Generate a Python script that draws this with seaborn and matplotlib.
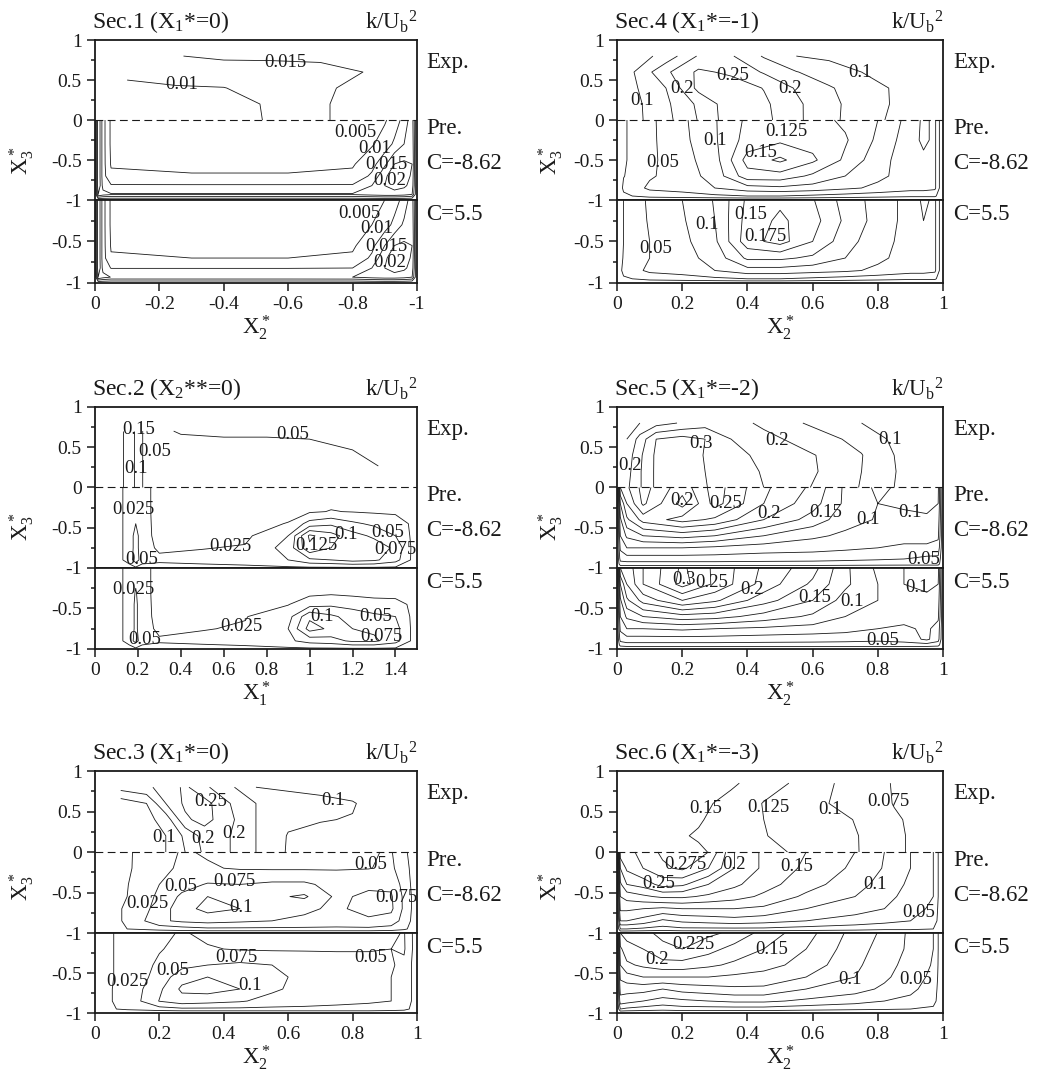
import numpy as np
import matplotlib
matplotlib.use("Agg")
import matplotlib.pyplot as plt
import seaborn as sns

# ---------------- data (k/Ub^2) ----------------
# Sec.1 (X1*=0)
sec1_exp_x = [-0.1, -0.25, -0.4, -0.55, -0.7, -0.85]
sec1_exp_y = [0, 0.2, 0.4, 0.6, 0.8]
sec1_exp_k = [[0.007, 0.0075, 0.008, 0.0105, 0.0145, 0.017],
              [0.0075, 0.008, 0.0085, 0.0105, 0.0145, 0.017],
              [0.0095, 0.0098, 0.0099, 0.0115, 0.014, 0.017],
              [0.0105, 0.011, 0.012, 0.0125, 0.0135, 0.0152],
              [0.013, 0.0148, 0.016, 0.016, 0.016, 0.0155]]
sec1_x = [0, -0.01, -0.025, -0.05, -0.3, -0.6, -0.8, -0.86, -0.9, -0.93, -0.96, -0.985, -1.0]
sec1_y = [0, -0.3, -0.55, -0.7, -0.82, -0.93, -1.0]
sec1_pre_k = [[0, 0.025, 0.012, 0.004, 0.003, 0.003, 0.003, 0.0035, 0.0045, 0.007, 0.012, 0.018, 0],
              [0, 0.025, 0.012, 0.004, 0.003, 0.003, 0.0035, 0.0045, 0.007, 0.011, 0.015, 0.019, 0],
              [0, 0.025, 0.012, 0.0045, 0.0035, 0.0035, 0.0045, 0.008, 0.014, 0.02, 0.021, 0.02, 0],
              [0, 0.025, 0.012, 0.006, 0.0055, 0.0055, 0.006, 0.011, 0.019, 0.023, 0.023, 0.019, 0],
              [0, 0.025, 0.013, 0.0105, 0.0105, 0.0105, 0.0105, 0.015, 0.02, 0.022, 0.021, 0.018, 0],
              [0, 0.02, 0.017, 0.0155, 0.0155, 0.0155, 0.0155, 0.017, 0.018, 0.018, 0.017, 0.015, 0],
              [0, 0, 0, 0, 0, 0, 0, 0, 0, 0, 0, 0, 0]]
sec1_c_k = [[0, 0.025, 0.012, 0.004, 0.003, 0.003, 0.003, 0.004, 0.005, 0.0075, 0.012, 0.018, 0],
            [0, 0.025, 0.012, 0.004, 0.003, 0.003, 0.0035, 0.005, 0.0075, 0.0115, 0.016, 0.019, 0],
            [0, 0.025, 0.012, 0.0045, 0.0035, 0.0035, 0.0042, 0.0085, 0.015, 0.02, 0.021, 0.02, 0],
            [0, 0.025, 0.012, 0.0055, 0.005, 0.005, 0.0058, 0.011, 0.019, 0.023, 0.023, 0.019, 0],
            [0, 0.025, 0.013, 0.0098, 0.0098, 0.0098, 0.01, 0.015, 0.02, 0.022, 0.021, 0.018, 0],
            [0, 0.02, 0.017, 0.0148, 0.0148, 0.0148, 0.015, 0.017, 0.018, 0.018, 0.017, 0.015, 0],
            [0, 0, 0, 0, 0, 0, 0, 0, 0, 0, 0, 0, 0]]

# Sec.2 (X2**=0)
sec2_exp_x = [0.12, 0.14, 0.17, 0.2, 0.23, 0.3, 0.4, 0.6, 0.8, 1.0, 1.2, 1.32]
sec2_exp_y = [0, 0.2, 0.4, 0.6, 0.7]
sec2_exp_k = [[0.17, 0.13, 0.11, 0.08, 0.04, 0.04, 0.042, 0.044, 0.045, 0.046, 0.047, 0.048],
              [0.17, 0.13, 0.11, 0.08, 0.04, 0.04, 0.043, 0.045, 0.046, 0.047, 0.048, 0.049],
              [0.17, 0.13, 0.11, 0.08, 0.04, 0.042, 0.044, 0.046, 0.047, 0.048, 0.049, 0.052],
              [0.17, 0.13, 0.11, 0.08, 0.04, 0.044, 0.047, 0.049, 0.049, 0.05, 0.052, 0.054],
              [0.17, 0.13, 0.11, 0.08, 0.04, 0.046, 0.052, 0.053, 0.053, 0.053, 0.054, 0.055]]
sec2_x = [0.1, 0.16, 0.19, 0.22, 0.3, 0.5, 0.7, 0.9, 1.0, 1.1, 1.2, 1.3, 1.4, 1.48]
sec2_y = [0, -0.3, -0.45, -0.6, -0.75, -0.9, -1.0]
sec2_pre_k = [[0.015, 0.035, 0.04, 0.035, 0.015, 0.01, 0.01, 0.012, 0.013, 0.013, 0.013, 0.012, 0.01, 0.008],
              [0.015, 0.035, 0.045, 0.035, 0.015, 0.012, 0.013, 0.018, 0.022, 0.026, 0.024, 0.022, 0.02, 0.015],
              [0.015, 0.035, 0.05, 0.035, 0.016, 0.015, 0.017, 0.026, 0.06, 0.07, 0.055, 0.045, 0.04, 0.02],
              [0.015, 0.035, 0.06, 0.035, 0.017, 0.018, 0.02, 0.05, 0.13, 0.11, 0.085, 0.07, 0.05, 0.02],
              [0.015, 0.035, 0.06, 0.035, 0.021, 0.024, 0.027, 0.06, 0.12, 0.1, 0.085, 0.09, 0.07, 0.02],
              [0.015, 0.035, 0.065, 0.035, 0.03, 0.032, 0.034, 0.05, 0.07, 0.075, 0.085, 0.08, 0.06, 0.02],
              [0.01, 0.015, 0.02, 0.015, 0.015, 0.018, 0.02, 0.02, 0.02, 0.02, 0.02, 0.02, 0.02, 0.01]]
sec2_c_k = [[0.015, 0.035, 0.04, 0.035, 0.015, 0.01, 0.01, 0.012, 0.013, 0.013, 0.013, 0.012, 0.01, 0.008],
            [0.015, 0.035, 0.052, 0.035, 0.015, 0.012, 0.013, 0.016, 0.018, 0.02, 0.018, 0.016, 0.014, 0.012],
            [0.015, 0.035, 0.055, 0.035, 0.016, 0.015, 0.017, 0.024, 0.04, 0.045, 0.04, 0.035, 0.035, 0.02],
            [0.015, 0.035, 0.055, 0.035, 0.017, 0.02, 0.024, 0.04, 0.095, 0.08, 0.065, 0.055, 0.05, 0.02],
            [0.015, 0.035, 0.055, 0.035, 0.02, 0.024, 0.027, 0.05, 0.11, 0.095, 0.075, 0.07, 0.06, 0.02],
            [0.015, 0.035, 0.06, 0.035, 0.028, 0.03, 0.032, 0.045, 0.06, 0.065, 0.08, 0.08, 0.06, 0.02],
            [0.01, 0.015, 0.02, 0.015, 0.015, 0.018, 0.02, 0.02, 0.02, 0.02, 0.02, 0.02, 0.02, 0.01]]

# Sec.3 (X1*=0)
sec3_exp_x = [0.08, 0.16, 0.22, 0.28, 0.34, 0.42, 0.5, 0.6, 0.7, 0.8, 0.86]
sec3_exp_y = [0, 0.2, 0.4, 0.6, 0.8]
sec3_exp_k = [[0.06, 0.08, 0.1, 0.15, 0.21, 0.2, 0.15, 0.095, 0.08, 0.07, 0.06],
              [0.06, 0.08, 0.1, 0.16, 0.22, 0.2, 0.15, 0.097, 0.085, 0.07, 0.06],
              [0.06, 0.085, 0.12, 0.24, 0.27, 0.21, 0.15, 0.11, 0.103, 0.097, 0.07],
              [0.07, 0.1, 0.2, 0.26, 0.27, 0.2, 0.15, 0.13, 0.12, 0.105, 0.08],
              [0.17, 0.19, 0.22, 0.26, 0.21, 0.16, 0.1, 0.09, 0.08, 0.07, 0.06]]
sec3_x = [0, 0.1, 0.2, 0.27, 0.35, 0.45, 0.55, 0.65, 0.75, 0.85, 0.92, 0.96, 1.0]
sec3_y = [0, -0.2, -0.4, -0.55, -0.7, -0.85, -0.95, -1.0]
sec3_pre_k = [[0.02, 0.022, 0.04, 0.052, 0.048, 0.045, 0.045, 0.045, 0.045, 0.048, 0.052, 0.03, 0.01],
              [0.02, 0.022, 0.042, 0.055, 0.052, 0.048, 0.047, 0.047, 0.048, 0.049, 0.055, 0.035, 0.01],
              [0.02, 0.024, 0.05, 0.065, 0.077, 0.075, 0.08, 0.08, 0.065, 0.07, 0.07, 0.04, 0.01],
              [0.02, 0.025, 0.055, 0.08, 0.1, 0.085, 0.095, 0.104, 0.07, 0.08, 0.078, 0.045, 0.01],
              [0.02, 0.026, 0.06, 0.09, 0.108, 0.1, 0.085, 0.08, 0.07, 0.085, 0.08, 0.045, 0.01],
              [0.02, 0.026, 0.07, 0.08, 0.085, 0.08, 0.075, 0.07, 0.065, 0.07, 0.065, 0.04, 0.01],
              [0.02, 0.025, 0.035, 0.04, 0.045, 0.045, 0.045, 0.045, 0.045, 0.045, 0.04, 0.03, 0.01],
              [0, 0, 0, 0, 0, 0, 0, 0, 0, 0, 0, 0, 0]]
sec3_c_k = [[0.018, 0.03, 0.045, 0.052, 0.045, 0.042, 0.042, 0.042, 0.042, 0.042, 0.045, 0.052, 0.01],
            [0.018, 0.03, 0.048, 0.058, 0.052, 0.048, 0.047, 0.047, 0.048, 0.049, 0.05, 0.053, 0.01],
            [0.018, 0.03, 0.055, 0.068, 0.075, 0.08, 0.075, 0.07, 0.06, 0.055, 0.052, 0.045, 0.01],
            [0.018, 0.03, 0.06, 0.09, 0.1, 0.09, 0.08, 0.07, 0.06, 0.055, 0.05, 0.045, 0.01],
            [0.018, 0.031, 0.07, 0.105, 0.11, 0.1, 0.08, 0.065, 0.058, 0.055, 0.05, 0.045, 0.01],
            [0.018, 0.031, 0.076, 0.09, 0.085, 0.078, 0.065, 0.06, 0.055, 0.052, 0.05, 0.045, 0.01],
            [0.015, 0.03, 0.04, 0.045, 0.045, 0.045, 0.045, 0.045, 0.045, 0.045, 0.04, 0.035, 0.01],
            [0, 0, 0, 0, 0, 0, 0, 0, 0, 0, 0, 0, 0]]

# Sec.4 (X1*=-1)
sec4_exp_x = [0.05, 0.15, 0.25, 0.35, 0.45, 0.55, 0.65, 0.75, 0.85]
sec4_exp_y = [0, 0.2, 0.4, 0.6, 0.8]
sec4_exp_k = [[0.085, 0.135, 0.203, 0.28, 0.265, 0.21, 0.163, 0.125, 0.09],
              [0.085, 0.14, 0.21, 0.28, 0.26, 0.21, 0.162, 0.13, 0.095],
              [0.092, 0.15, 0.265, 0.28, 0.248, 0.195, 0.155, 0.125, 0.095],
              [0.098, 0.19, 0.26, 0.24, 0.195, 0.152, 0.125, 0.1, 0.085],
              [0.07, 0.12, 0.205, 0.205, 0.145, 0.1, 0.09, 0.085, 0.08]]
sec4_x = [0, 0.02, 0.1, 0.2, 0.3, 0.4, 0.5, 0.6, 0.7, 0.8, 0.9, 0.94, 0.975, 1.0]
sec4_y = [0, -0.25, -0.5, -0.7, -0.85, -0.95, -1.0]
sec4_pre_k = [[0, 0.022, 0.045, 0.07, 0.098, 0.13, 0.135, 0.135, 0.12, 0.1, 0.065, 0.045, 0.055, 0],
              [0, 0.022, 0.045, 0.068, 0.097, 0.135, 0.145, 0.14, 0.128, 0.095, 0.06, 0.045, 0.055, 0],
              [0, 0.022, 0.045, 0.065, 0.09, 0.16, 0.18, 0.155, 0.12, 0.085, 0.06, 0.055, 0.055, 0],
              [0, 0.024, 0.047, 0.062, 0.085, 0.14, 0.14, 0.12, 0.1, 0.08, 0.065, 0.06, 0.055, 0],
              [0, 0.03, 0.055, 0.06, 0.075, 0.09, 0.095, 0.09, 0.08, 0.07, 0.06, 0.06, 0.055, 0],
              [0, 0.02, 0.035, 0.04, 0.045, 0.05, 0.05, 0.045, 0.04, 0.035, 0.03, 0.03, 0.03, 0],
              [0, 0, 0, 0, 0, 0, 0, 0, 0, 0, 0, 0, 0, 0]]
sec4_c_k = [[0, 0.025, 0.055, 0.075, 0.102, 0.155, 0.17, 0.152, 0.115, 0.09, 0.065, 0.045, 0.055, 0],
            [0, 0.025, 0.053, 0.072, 0.1, 0.16, 0.18, 0.16, 0.12, 0.09, 0.065, 0.05, 0.055, 0],
            [0, 0.025, 0.05, 0.068, 0.095, 0.165, 0.185, 0.15, 0.11, 0.085, 0.065, 0.055, 0.055, 0],
            [0, 0.028, 0.05, 0.065, 0.085, 0.13, 0.13, 0.12, 0.1, 0.08, 0.065, 0.06, 0.055, 0],
            [0, 0.035, 0.055, 0.06, 0.075, 0.09, 0.09, 0.085, 0.08, 0.07, 0.06, 0.06, 0.055, 0],
            [0, 0.02, 0.035, 0.04, 0.045, 0.05, 0.05, 0.045, 0.04, 0.035, 0.03, 0.03, 0.03, 0],
            [0, 0, 0, 0, 0, 0, 0, 0, 0, 0, 0, 0, 0, 0]]

# Sec.5 (X1*=-2)
sec5_exp_x = [0.03, 0.07, 0.12, 0.2, 0.27, 0.35, 0.45, 0.55, 0.65, 0.75, 0.85, 0.9]
sec5_exp_y = [0, 0.2, 0.4, 0.6, 0.8]
sec5_exp_k = [[0.19, 0.245, 0.31, 0.32, 0.302, 0.28, 0.25, 0.215, 0.18, 0.147, 0.1, 0.085],
              [0.18, 0.245, 0.31, 0.32, 0.3, 0.28, 0.245, 0.22, 0.19, 0.15, 0.102, 0.085],
              [0.17, 0.24, 0.31, 0.32, 0.298, 0.27, 0.235, 0.215, 0.19, 0.152, 0.1, 0.085],
              [0.15, 0.22, 0.3, 0.32, 0.3, 0.25, 0.215, 0.19, 0.16, 0.135, 0.09, 0.08],
              [0.1, 0.15, 0.18, 0.205, 0.23, 0.22, 0.19, 0.155, 0.13, 0.1, 0.08, 0.07]]
sec5_x = [0, 0.01, 0.03, 0.08, 0.2, 0.3, 0.45, 0.6, 0.7, 0.8, 0.88, 0.95, 0.985, 1.0]
sec5_y = [0, -0.2, -0.4, -0.6, -0.75, -0.88, -0.95, -1.0]
sec5_pre_k = [[0, 0.2, 0.22, 0.26, 0.21, 0.262, 0.205, 0.17, 0.12, 0.095, 0.105, 0.11, 0.105, 0],
              [0, 0.15, 0.2, 0.255, 0.19, 0.26, 0.2, 0.16, 0.12, 0.1, 0.103, 0.105, 0.1, 0],
              [0, 0.12, 0.17, 0.21, 0.235, 0.22, 0.175, 0.14, 0.11, 0.098, 0.095, 0.097, 0.09, 0],
              [0, 0.1, 0.13, 0.15, 0.16, 0.15, 0.125, 0.105, 0.095, 0.088, 0.085, 0.085, 0.08, 0],
              [0, 0.08, 0.1, 0.1, 0.1, 0.095, 0.088, 0.085, 0.08, 0.075, 0.07, 0.07, 0.065, 0],
              [0, 0.06, 0.065, 0.065, 0.065, 0.065, 0.062, 0.06, 0.058, 0.055, 0.052, 0.045, 0.045, 0],
              [0, 0.04, 0.04, 0.04, 0.04, 0.04, 0.04, 0.04, 0.038, 0.036, 0.035, 0.035, 0.035, 0],
              [0, 0, 0, 0, 0, 0, 0, 0, 0, 0, 0, 0, 0, 0]]
sec5_c_k = [[0, 0.2, 0.21, 0.25, 0.305, 0.27, 0.22, 0.185, 0.13, 0.095, 0.1, 0.11, 0.11, 0],
            [0, 0.15, 0.2, 0.25, 0.31, 0.27, 0.215, 0.17, 0.13, 0.1, 0.1, 0.105, 0.1, 0],
            [0, 0.12, 0.17, 0.21, 0.25, 0.23, 0.185, 0.15, 0.115, 0.1, 0.095, 0.095, 0.09, 0],
            [0, 0.1, 0.13, 0.15, 0.165, 0.16, 0.14, 0.12, 0.1, 0.09, 0.085, 0.085, 0.08, 0],
            [0, 0.08, 0.1, 0.1, 0.105, 0.1, 0.095, 0.09, 0.085, 0.075, 0.07, 0.08, 0.065, 0],
            [0, 0.06, 0.065, 0.065, 0.065, 0.065, 0.062, 0.06, 0.058, 0.055, 0.06, 0.08, 0.06, 0],
            [0, 0.035, 0.04, 0.04, 0.04, 0.04, 0.04, 0.04, 0.04, 0.04, 0.04, 0.04, 0.035, 0],
            [0, 0, 0, 0, 0, 0, 0, 0, 0, 0, 0, 0, 0, 0]]

# Sec.6 (X1*=-3)
sec6_exp_x = [0.15, 0.25, 0.35, 0.45, 0.55, 0.65, 0.75, 0.85, 0.92]
sec6_exp_y = [0, 0.2, 0.4, 0.6, 0.85]
sec6_exp_k = [[0.17, 0.153, 0.142, 0.133, 0.122, 0.112, 0.099, 0.08, 0.07],
              [0.155, 0.148, 0.138, 0.126, 0.118, 0.11, 0.099, 0.08, 0.07],
              [0.16, 0.152, 0.14, 0.125, 0.117, 0.108, 0.097, 0.078, 0.07],
              [0.165, 0.158, 0.14, 0.124, 0.113, 0.1, 0.09, 0.074, 0.068],
              [0.175, 0.165, 0.155, 0.135, 0.122, 0.102, 0.09, 0.073, 0.065]]
sec6_x = [0, 0.01, 0.03, 0.08, 0.14, 0.2, 0.28, 0.36, 0.45, 0.58, 0.73, 0.82, 0.9, 0.97, 1.0]
sec6_y = [0, -0.2, -0.4, -0.55, -0.7, -0.85, -0.95, -1.0]
sec6_pre_k = [[0, 0.24, 0.24, 0.26, 0.28, 0.285, 0.275, 0.2, 0.17, 0.15, 0.125, 0.1, 0.075, 0.05, 0],
              [0, 0.2, 0.23, 0.25, 0.27, 0.28, 0.25, 0.2, 0.17, 0.145, 0.12, 0.098, 0.075, 0.05, 0],
              [0, 0.17, 0.2, 0.21, 0.235, 0.23, 0.2, 0.18, 0.16, 0.135, 0.11, 0.09, 0.07, 0.05, 0],
              [0, 0.15, 0.16, 0.17, 0.18, 0.18, 0.17, 0.16, 0.145, 0.12, 0.1, 0.083, 0.066, 0.05, 0],
              [0, 0.13, 0.13, 0.125, 0.12, 0.125, 0.125, 0.125, 0.12, 0.1, 0.085, 0.075, 0.06, 0.045, 0],
              [0, 0.1, 0.1, 0.09, 0.07, 0.08, 0.085, 0.09, 0.085, 0.075, 0.065, 0.058, 0.05, 0.04, 0],
              [0, 0.05, 0.05, 0.045, 0.04, 0.045, 0.045, 0.045, 0.045, 0.04, 0.035, 0.03, 0.03, 0.025, 0],
              [0, 0, 0, 0, 0, 0, 0, 0, 0, 0, 0, 0, 0, 0, 0]]
sec6_c_k = [[0, 0.2, 0.21, 0.22, 0.23, 0.235, 0.23, 0.22, 0.19, 0.16, 0.115, 0.095, 0.07, 0.05, 0],
            [0, 0.17, 0.19, 0.2, 0.22, 0.225, 0.21, 0.19, 0.175, 0.15, 0.11, 0.09, 0.07, 0.05, 0],
            [0, 0.15, 0.17, 0.18, 0.19, 0.19, 0.18, 0.17, 0.16, 0.14, 0.105, 0.085, 0.065, 0.048, 0],
            [0, 0.13, 0.14, 0.15, 0.15, 0.15, 0.15, 0.145, 0.14, 0.125, 0.1, 0.08, 0.06, 0.045, 0],
            [0, 0.11, 0.11, 0.11, 0.1, 0.11, 0.115, 0.12, 0.12, 0.1, 0.085, 0.07, 0.055, 0.04, 0],
            [0, 0.09, 0.085, 0.075, 0.065, 0.07, 0.075, 0.08, 0.08, 0.07, 0.06, 0.05, 0.045, 0.035, 0],
            [0, 0.05, 0.045, 0.04, 0.035, 0.04, 0.04, 0.04, 0.04, 0.035, 0.03, 0.028, 0.025, 0.02, 0],
            [0, 0, 0, 0, 0, 0, 0, 0, 0, 0, 0, 0, 0, 0, 0]]

# contour levels
lev_s1_exp = [0.01, 0.015]
lev_s1 = [0.005, 0.01, 0.015, 0.02]
lev_s2_exp = [0.05, 0.1, 0.15]
lev_s2 = [0.025, 0.05, 0.075, 0.1, 0.125]
lev_s3_exp = [0.1, 0.15, 0.2, 0.25]
lev_s3 = [0.025, 0.05, 0.075, 0.1]
lev_s4_exp = [0.1, 0.15, 0.2, 0.25]
lev_s4 = [0.025, 0.05, 0.075, 0.1, 0.125, 0.15, 0.175]
lev_s5_exp = [0.1, 0.15, 0.2, 0.25, 0.3]
lev_s5_pre = [0.025, 0.05, 0.075, 0.1, 0.125, 0.15, 0.175, 0.2, 0.225, 0.25]
lev_s5_c = [0.025, 0.05, 0.075, 0.1, 0.125, 0.15, 0.175, 0.2, 0.225, 0.25, 0.275, 0.3]
lev_s6_exp = [0.075, 0.1, 0.125, 0.15]
lev_s6_pre = [0.025, 0.05, 0.075, 0.1, 0.125, 0.15, 0.175, 0.2, 0.225, 0.25, 0.275]
lev_s6_c = [0.025, 0.05, 0.075, 0.1, 0.125, 0.15, 0.175, 0.2, 0.225]

# label spots: (level, x, y)
lab_s1_exp = [(0.01, -0.27, 0.45), (0.015, -0.59, 0.725)]
lab_s1_pre = [(0.005, -0.81, -0.16), (0.01, -0.87, -0.35), (0.015, -0.905, -0.55), (0.02, -0.916, -0.75)]
lab_s1_c = [(0.005, -0.82, -0.16), (0.01, -0.875, -0.34), (0.015, -0.905, -0.56), (0.02, -0.916, -0.75)]
lab_s2_exp = [(0.15, 0.204, 0.72), (0.05, 0.28, 0.45), (0.1, 0.19, 0.24), (0.05, 0.92, 0.66)]
lab_s2_pre = [(0.025, 0.18, -0.27), (0.05, 0.22, -0.9), (0.025, 0.63, -0.73), (0.1, 1.17, -0.585),
              (0.125, 1.03, -0.72), (0.05, 1.365, -0.56), (0.075, 1.4, -0.77)]
lab_s2_c = [(0.025, 0.18, -0.26), (0.05, 0.23, -0.885), (0.025, 0.68, -0.72), (0.1, 1.06, -0.6),
            (0.05, 1.31, -0.6), (0.075, 1.335, -0.84)]
lab_s3_exp = [(0.25, 0.36, 0.62), (0.1, 0.74, 0.64), (0.1, 0.215, 0.18), (0.2, 0.335, 0.165),
              (0.2, 0.433, 0.23)]
lab_s3_pre = [(0.05, 0.855, -0.15), (0.075, 0.433, -0.37), (0.05, 0.267, -0.43), (0.025, 0.163, -0.64),
              (0.1, 0.454, -0.69), (0.075, 0.937, -0.56)]
lab_s3_c = [(0.075, 0.44, -0.3), (0.05, 0.855, -0.3), (0.05, 0.24, -0.47), (0.1, 0.48, -0.65),
            (0.025, 0.1, -0.6)]
lab_s4_exp = [(0.25, 0.356, 0.56), (0.2, 0.2, 0.39), (0.1, 0.077, 0.25), (0.2, 0.53, 0.4), (0.1, 0.745, 0.6)]
lab_s4_pre = [(0.125, 0.52, -0.14), (0.1, 0.3, -0.26), (0.15, 0.44, -0.4), (0.05, 0.14, -0.53)]
lab_s4_c = [(0.15, 0.41, -0.18), (0.1, 0.275, -0.3), (0.175, 0.455, -0.44), (0.05, 0.12, -0.59)]
lab_s5_exp = [(0.2, 0.041, 0.27), (0.3, 0.257, 0.54), (0.2, 0.49, 0.58), (0.1, 0.836, 0.6)]
lab_s5_pre = [(0.2, 0.2, -0.165), (0.25, 0.333, -0.2), (0.2, 0.467, -0.32), (0.15, 0.64, -0.31),
              (0.1, 0.77, -0.4), (0.1, 0.9, -0.31), (0.05, 0.94, -0.9)]
lab_s5_c = [(0.3, 0.205, -0.14), (0.25, 0.29, -0.18), (0.2, 0.415, -0.27), (0.15, 0.605, -0.37),
            (0.1, 0.72, -0.41), (0.1, 0.92, -0.24), (0.05, 0.815, -0.9)]
lab_s6_exp = [(0.15, 0.271, 0.54), (0.125, 0.465, 0.55), (0.1, 0.654, 0.53), (0.075, 0.833, 0.62)]
lab_s6_pre = [(0.275, 0.21, -0.15), (0.2, 0.358, -0.15), (0.15, 0.552, -0.185), (0.25, 0.128, -0.39),
              (0.1, 0.79, -0.4), (0.05, 0.925, -0.75)]
lab_s6_c = [(0.225, 0.235, -0.145), (0.2, 0.123, -0.33), (0.15, 0.475, -0.2), (0.1, 0.716, -0.575),
            (0.05, 0.915, -0.575)]

# ---------------- style ----------------
sns.set_theme(style="ticks")
plt.rcParams['font.family'] = ['Liberation Serif', 'DejaVu Serif']
plt.rcParams['mathtext.fontset'] = 'custom'
plt.rcParams['mathtext.rm'] = 'Liberation Serif'
plt.rcParams['mathtext.it'] = 'Liberation Serif:italic'
plt.rcParams['axes.unicode_minus'] = False
plt.rcParams.update({'text.color': 'k', 'axes.labelcolor': 'k', 'xtick.color': 'k',
                     'ytick.color': 'k', 'axes.edgecolor': 'k'})

FS_TICK = 14
FS_TEXT = 16.5
FS_LAB = 13.5


def fmt(v):
    return f'{v:g}'


def label_on(ax, cs, lv, lx, ly):
    # clabel picks the chosen level, the text then sits where the original puts it
    i = int(np.argmin(np.abs(np.asarray(cs.levels) - lv)))
    path = cs.get_paths()[i]
    v = path.vertices
    if path.codes is not None:
        v = v[path.codes != 79]
    if len(v) == 0:
        return
    d = ax.transData.transform(v) - ax.transData.transform((lx, ly))
    j = int(np.argmin((d ** 2).sum(axis=1)))
    n0 = len(cs.labelTexts)
    ax.clabel(cs, manual=[tuple(v[j])], inline=False, fontsize=FS_LAB, fmt=fmt)
    for t in cs.labelTexts[n0:]:
        t.set_position((lx, ly))


def draw_field(ax, x, y, k, levels, labels):
    cs = ax.contour(np.array(x), np.array(y), np.array(k), levels=levels,
                    colors='k', linewidths=0.6)
    for lv, lx, ly in labels:
        label_on(ax, cs, lv, lx, ly)
    for t in cs.labelTexts:
        t.set_rotation(0)
        t.set_color('k')
        t.set_ha('center')
        t.set_va('center')
    return cs


panels = [
    dict(title='Sec.1 (X$_1$*=0)', xlab='X$_2^*$', col=0, row=0, xlim=(0, -1),
         xticks=[0, -0.2, -0.4, -0.6, -0.8, -1],
         exp=(sec1_exp_x, sec1_exp_y, sec1_exp_k, lev_s1_exp, lab_s1_exp),
         pre=(sec1_x, sec1_y, sec1_pre_k, lev_s1, lab_s1_pre),
         cc=(sec1_x, sec1_y, sec1_c_k, lev_s1, lab_s1_c)),
    dict(title='Sec.2 (X$_2$**=0)', xlab='X$_1^*$', col=0, row=1, xlim=(0, 1.5),
         xticks=[0, 0.2, 0.4, 0.6, 0.8, 1, 1.2, 1.4],
         exp=(sec2_exp_x, sec2_exp_y, sec2_exp_k, lev_s2_exp, lab_s2_exp),
         pre=(sec2_x, sec2_y, sec2_pre_k, lev_s2, lab_s2_pre),
         cc=(sec2_x, sec2_y, sec2_c_k, lev_s2, lab_s2_c)),
    dict(title='Sec.3 (X$_1$*=0)', xlab='X$_2^*$', col=0, row=2, xlim=(0, 1),
         xticks=[0, 0.2, 0.4, 0.6, 0.8, 1],
         exp=(sec3_exp_x, sec3_exp_y, sec3_exp_k, lev_s3_exp, lab_s3_exp),
         pre=(sec3_x, sec3_y, sec3_pre_k, lev_s3, lab_s3_pre),
         cc=(sec3_x, sec3_y, sec3_c_k, lev_s3, lab_s3_c)),
    dict(title='Sec.4 (X$_1$*=-1)', xlab='X$_2^*$', col=1, row=0, xlim=(0, 1),
         xticks=[0, 0.2, 0.4, 0.6, 0.8, 1],
         exp=(sec4_exp_x, sec4_exp_y, sec4_exp_k, lev_s4_exp, lab_s4_exp),
         pre=(sec4_x, sec4_y, sec4_pre_k, lev_s4, lab_s4_pre),
         cc=(sec4_x, sec4_y, sec4_c_k, lev_s4, lab_s4_c)),
    dict(title='Sec.5 (X$_1$*=-2)', xlab='X$_2^*$', col=1, row=1, xlim=(0, 1),
         xticks=[0, 0.2, 0.4, 0.6, 0.8, 1],
         exp=(sec5_exp_x, sec5_exp_y, sec5_exp_k, lev_s5_exp, lab_s5_exp),
         pre=(sec5_x, sec5_y, sec5_pre_k, lev_s5_pre, lab_s5_pre),
         cc=(sec5_x, sec5_y, sec5_c_k, lev_s5_c, lab_s5_c)),
    dict(title='Sec.6 (X$_1$*=-3)', xlab='X$_2^*$', col=1, row=2, xlim=(0, 1),
         xticks=[0, 0.2, 0.4, 0.6, 0.8, 1],
         exp=(sec6_exp_x, sec6_exp_y, sec6_exp_k, lev_s6_exp, lab_s6_exp),
         pre=(sec6_x, sec6_y, sec6_pre_k, lev_s6_pre, lab_s6_pre),
         cc=(sec6_x, sec6_y, sec6_c_k, lev_s6_c, lab_s6_c)),
]

# figure-fraction layout (left, width) per column and (upper bottom, upper h, lower bottom, lower h) per row
col_box = [(0.0913, 0.3096), (0.5933, 0.3135)]
row_box = [(0.8148, 0.1481, 0.7380, 0.0769),
           (0.4741, 0.1491, 0.3991, 0.0750),
           (0.1361, 0.1500, 0.0620, 0.0741)]
ylab_x = [0.021, 0.529]
ylab_y = [0.851, 0.512, 0.179]

fig = plt.figure(figsize=(10.4, 10.8), dpi=100)

for p in panels:
    left, width = col_box[p['col']]
    ub, uh, lb, lh = row_box[p['row']]
    ax_u = fig.add_axes([left, ub, width, uh])
    ax_l = fig.add_axes([left, lb, width, lh])

    for ax in (ax_u, ax_l):
        ax.set_xlim(*p['xlim'])
    ax_u.set_ylim(-1, 1)
    ax_l.set_ylim(-1, 0)

    draw_field(ax_u, *p['exp'])
    draw_field(ax_u, *p['pre'])
    draw_field(ax_l, *p['cc'])
    ax_u.axhline(0, color='k', lw=0.8, ls=(0, (7, 4)))

    for ax in (ax_u, ax_l):
        for s in ax.spines.values():
            s.set_linewidth(1.3)
            s.set_color('k')
        ax.tick_params(which='both', direction='out', color='k', width=1.1,
                       labelsize=FS_TICK, labelcolor='k', right=False, top=False)
        ax.tick_params(which='major', length=6)
        ax.tick_params(which='minor', length=3)
        ax.set_facecolor('white')

    ax_u.set_yticks([-1, -0.5, 0, 0.5, 1])
    ax_u.set_yticklabels(['-1', '-0.5', '0', '0.5', '1'])
    ax_u.set_yticks([-0.75, -0.25, 0.25, 0.75], minor=True)
    ax_u.set_xticks([])
    ax_u.tick_params(axis='x', which='both', bottom=False, labelbottom=False)

    ax_l.set_yticks([-1, -0.5])
    ax_l.set_yticklabels(['-1', '-0.5'])
    ax_l.set_yticks([-0.75, -0.25], minor=True)
    ax_l.set_xticks(p['xticks'])
    ax_l.set_xticklabels([fmt(v) for v in p['xticks']])
    ax_l.set_xlabel(p['xlab'], fontsize=FS_TEXT, labelpad=0)

    ax_u.text(-0.01, 1.03, p['title'], transform=ax_u.transAxes, ha='left', va='bottom',
              fontsize=FS_TEXT + 0.5)
    ax_u.text(1.0, 1.03, 'k/U$_\\mathrm{b}$$^2$', transform=ax_u.transAxes, ha='right', va='bottom',
              fontsize=FS_TEXT)
    tr = ax_u.get_yaxis_transform()
    ax_u.text(1.03, 0.72, 'Exp.', transform=tr, ha='left', va='center', fontsize=FS_TEXT)
    ax_u.text(1.03, -0.1, 'Pre.', transform=tr, ha='left', va='center', fontsize=FS_TEXT)
    ax_u.text(1.03, -0.54, 'C=-8.62', transform=tr, ha='left', va='center', fontsize=FS_TEXT)
    ax_l.text(1.03, -0.18, 'C=5.5', transform=ax_l.get_yaxis_transform(), ha='left', va='center',
              fontsize=FS_TEXT)

    fig.text(ylab_x[p['col']], ylab_y[p['row']], 'X$_3^*$', rotation=90, ha='center', va='center',
             fontsize=FS_TEXT)

fig.savefig('out.png', dpi=100, facecolor='white')
